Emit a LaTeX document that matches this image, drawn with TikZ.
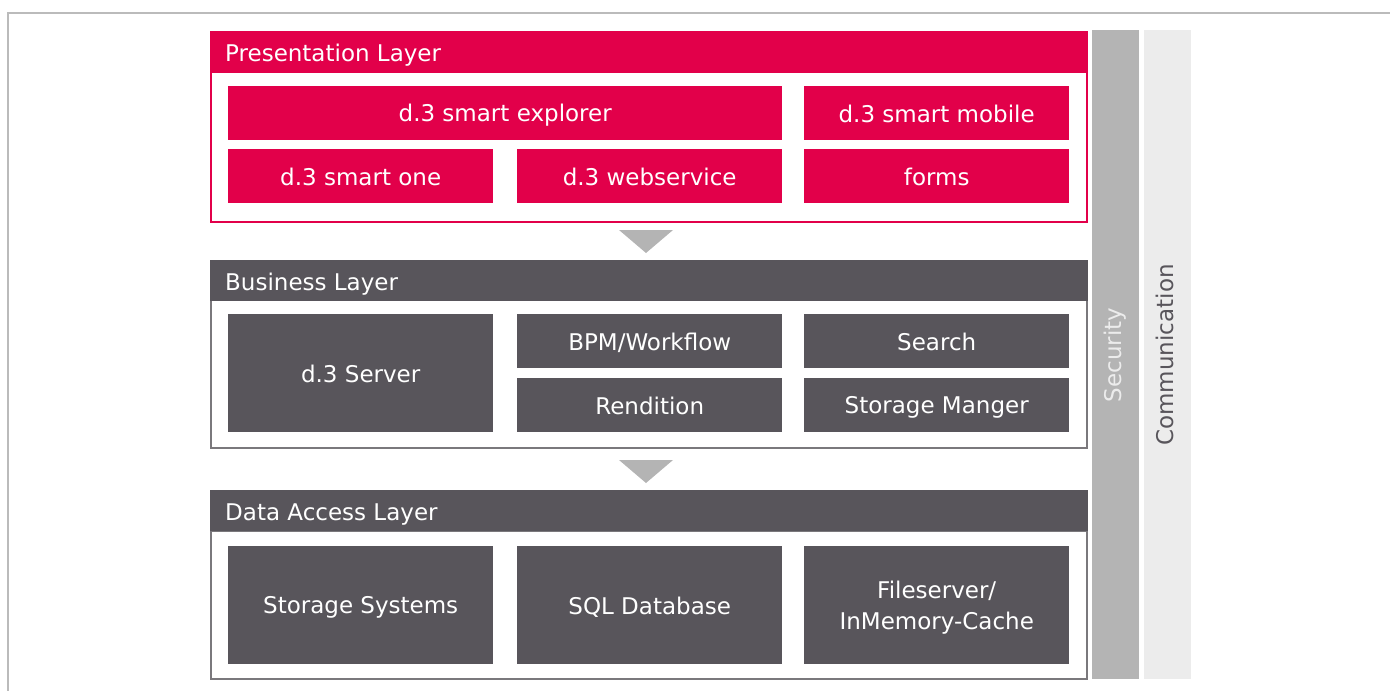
\documentclass[tikz,border=0pt]{standalone}
\usepackage{fontspec}
\setmainfont{DejaVu Sans}
\definecolor{dred}{HTML}{E2004A}
\definecolor{dgray}{HTML}{58555B}
\definecolor{sgray}{HTML}{B4B4B4}
\definecolor{cgray}{HTML}{ECECEC}
\definecolor{bordergray}{HTML}{BBBBBB}
\definecolor{framegray}{HTML}{7A787C}
\newcommand\bxstrut{\rule[-4pt]{0pt}{26pt}}
\begin{document}
\begin{tikzpicture}[x=1pt,y=-1pt,
  box/.style={anchor=north west,inner sep=0pt,text=white,font=\fontsize{23}{31}\selectfont,align=center},
  redbox/.style={box,fill=dred},
  graybox/.style={box,fill=dgray},
  headtext/.style={anchor=west,inner sep=0pt,text=white,font=\fontsize{23}{28}\selectfont,text height=22pt,text depth=3pt},
  sidetext/.style={rotate=90,font=\fontsize{23}{28}\selectfont,inner sep=0pt,text height=17pt,text depth=5pt}
]
\useasboundingbox (0,0) rectangle (1390,691);
% outer border
\draw[bordergray,line width=2pt] (1390,13) -- (8,13) -- (8,691);

% side bars
\node[anchor=north west,fill=sgray,minimum width=47pt,minimum height=649pt,inner sep=0pt] (sec) at (1092,30) {};
\node[sidetext,text=cgray] (sect) at (1115,355) {Security};
\node[anchor=north west,fill=cgray,minimum width=47pt,minimum height=649pt,inner sep=0pt] (com) at (1144,30) {};
\node[sidetext,text=dgray] (comt) at (1167,355) {Communication};

% Presentation layer
\draw[dred,line width=1.5pt] (211,72) rectangle (1087,222);
\node[anchor=north west,fill=dred,minimum width=878pt,minimum height=41pt,inner sep=0pt] (ph) at (210,31) {};
\node[headtext] (pht) at (225,51.5) {Presentation Layer};
\node[redbox,minimum width=554pt,minimum height=54pt] (p1) at (228,86) {\bxstrut d.3 smart explorer};
\node[redbox,minimum width=265pt,minimum height=54pt] (p2) at (804,86) {\bxstrut d.3 smart mobile};
\node[redbox,minimum width=265pt,minimum height=54pt] (p3) at (228,149) {\bxstrut d.3 smart one};
\node[redbox,minimum width=265pt,minimum height=54pt] (p4) at (517,149) {\bxstrut d.3 webservice};
\node[redbox,minimum width=265pt,minimum height=54pt] (p5) at (804,149) {\bxstrut forms};

% arrow 1
\coordinate (a1) at (646,230);
\fill[sgray] ([xshift=-27pt]a1) -- ([xshift=27pt]a1) -- ([yshift=-23pt]a1) -- cycle;

% Business layer
\draw[framegray,line width=1.5pt] (211,300) rectangle (1087,448);
\node[anchor=north west,fill=dgray,minimum width=878pt,minimum height=41pt,inner sep=0pt] (bh) at (210,260) {};
\node[headtext] (bht) at (225,280.5) {Business Layer};
\node[graybox,minimum width=265pt,minimum height=118pt] (b1) at (228,314) {\bxstrut d.3 Server};
\node[graybox,minimum width=265pt,minimum height=54pt] (b2) at (517,314) {\bxstrut BPM/Workflow};
\node[graybox,minimum width=265pt,minimum height=54pt] (b3) at (804,314) {\bxstrut Search};
\node[graybox,minimum width=265pt,minimum height=54pt] (b4) at (517,378) {\bxstrut Rendition};
\node[graybox,minimum width=265pt,minimum height=54pt] (b5) at (804,378) {\bxstrut Storage Manger};

% arrow 2
\coordinate (a2) at (646,460);
\fill[sgray] ([xshift=-27pt]a2) -- ([xshift=27pt]a2) -- ([yshift=-23pt]a2) -- cycle;

% Data access layer
\draw[framegray,line width=1.5pt] (211,531) rectangle (1087,679);
\node[anchor=north west,fill=dgray,minimum width=878pt,minimum height=41pt,inner sep=0pt] (dh) at (210,490) {};
\node[headtext] (dht) at (225,510.5) {Data Access Layer};
\node[graybox,minimum width=265pt,minimum height=118pt] (d1) at (228,546) {\bxstrut Storage Systems};
\node[graybox,minimum width=265pt,minimum height=118pt] (d2) at (517,546) {\bxstrut SQL Database};
\node[graybox,minimum width=265pt,minimum height=118pt] (d3) at (804,546) {\rule[-4pt]{0pt}{26pt}Fileserver/\\\rule[-4pt]{0pt}{26pt}InMemory-Cache};
\end{tikzpicture}
\end{document}
